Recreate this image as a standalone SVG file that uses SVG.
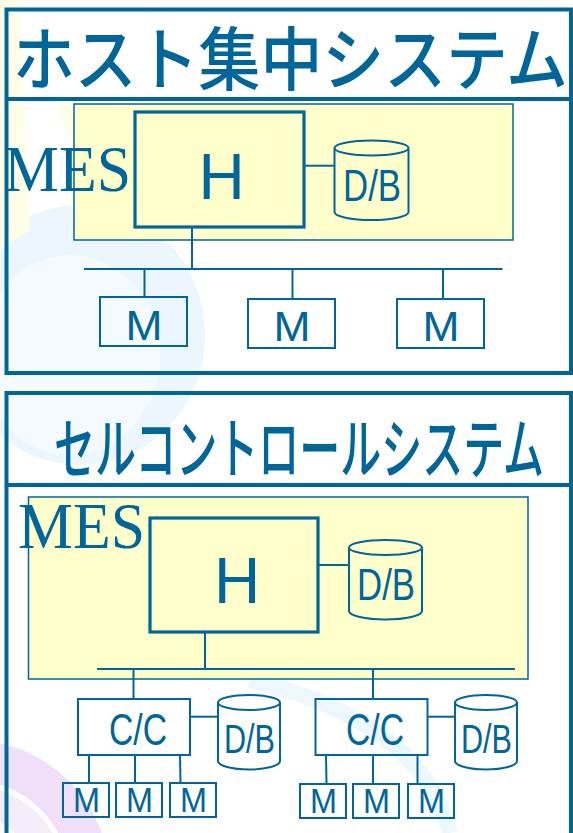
<svg xmlns="http://www.w3.org/2000/svg" width="573" height="833" viewBox="0 0 573 833">
<style>
.frm{fill:none;stroke:#006699;stroke-width:4}
.mes{fill:#FFFFCC;stroke:#006699;stroke-width:1.5}
.host{fill:#FFFFCC;stroke:#006699;stroke-width:3.2}
.box{fill:none;stroke:#006699;stroke-width:2}
.ln{fill:none;stroke:#006699;stroke-width:2}
.cyl{fill:none;stroke:#006699;stroke-width:2}
.t{fill:#006699;font-family:"Liberation Sans",Arial,sans-serif}
.jp{fill:#006699;font-family:"Noto Sans CJK JP",sans-serif}
.ser{fill:#006699;font-family:"Liberation Serif","Times New Roman",serif}
</style>
<rect width="573" height="833" fill="#FFFFFF"/>
<g id="background" opacity="0.9">
<ellipse cx="80" cy="335" rx="125" ry="130" fill="#EAF6FE"/>
<ellipse cx="70" cy="355" rx="90" ry="100" fill="#F4FAFF"/>
<polygon points="0,0 18,0 30,230 0,250" fill="#FFFFE6"/>
<polygon points="55,100 110,100 75,150" fill="#FFFFE6"/>
<circle cx="-30" cy="880" r="120" fill="none" stroke="#EEDCF8" stroke-width="40"/>
<circle cx="-30" cy="880" r="80" fill="none" stroke="#F6ECFB" stroke-width="30"/>
<path d="M250,680 Q420,720 450,833" fill="none" stroke="#EAF6FE" stroke-width="16"/>
</g>
<g id="frame-host">
<path class="frm" d="M6.5,373 V9.5 H571 V373 Z"/>
<line class="frm" x1="6.5" y1="99" x2="571" y2="99"/>
<text class="jp" x="13" y="85" font-size="69" font-weight="500" textLength="555" lengthAdjust="spacingAndGlyphs">ホスト集中システム</text>
</g>
<g id="frame-cell">
<path class="frm" d="M6.5,840 V393 H571 V840"/>
<line class="frm" x1="6.5" y1="485" x2="571" y2="485"/>
<text class="jp" x="54" y="473" font-size="66" font-weight="500" textLength="490" lengthAdjust="spacingAndGlyphs">セルコントロールシステム</text>
</g>
<g id="mes1">
<rect class="mes" x="74" y="104" width="439" height="136"/>
<text class="ser" x="4" y="191" font-size="66" textLength="127" lengthAdjust="spacingAndGlyphs">MES</text>
</g>
<g id="host1">
<rect class="host" x="135" y="112" width="169" height="115"/>
<text class="t" x="221.5" y="199" font-size="64" text-anchor="middle">H</text>
</g>
<g id="db1">
<path class="cyl" d="M334.5,148 a37,7.5 0 1,0 74,0 a37,7.5 0 1,0 -74,0 M334.5,148 V212 a37,8 0 0,0 74,0 V148"/>
<text class="t" x="372" y="201" font-size="45" text-anchor="middle" textLength="58" lengthAdjust="spacingAndGlyphs">D/B</text>
</g>
<g id="m1"><rect class="box" x="100" y="297" width="87" height="49"/><text class="t" x="144" y="340" font-size="43" text-anchor="middle" textLength="37" lengthAdjust="spacingAndGlyphs">M</text></g>
<g id="m2"><rect class="box" x="248" y="299" width="87" height="49"/><text class="t" x="292" y="341" font-size="43" text-anchor="middle" textLength="37" lengthAdjust="spacingAndGlyphs">M</text></g>
<g id="m3"><rect class="box" x="397" y="299" width="87" height="49"/><text class="t" x="441" y="341" font-size="43" text-anchor="middle" textLength="37" lengthAdjust="spacingAndGlyphs">M</text></g>
<g id="mes2">
<rect class="mes" x="28.5" y="497" width="499.5" height="182"/>
<text class="ser" x="18" y="548" font-size="66" textLength="127" lengthAdjust="spacingAndGlyphs">MES</text>
</g>
<g id="host2">
<rect class="host" x="150" y="518" width="168" height="114"/>
<text class="t" x="237" y="603" font-size="64" text-anchor="middle">H</text>
</g>
<g id="db2">
<path class="cyl" d="M349,547.5 a36.5,7.5 0 1,0 73,0 a36.5,7.5 0 1,0 -73,0 M349,547.5 V611 a36.5,8.5 0 0,0 73,0 V547.5"/>
<text class="t" x="386" y="600" font-size="45" text-anchor="middle" textLength="58" lengthAdjust="spacingAndGlyphs">D/B</text>
</g>
<g id="cc1">
<rect class="box" x="78" y="699" width="112" height="56"/>
<text class="t" x="138" y="745" font-size="44" text-anchor="middle" textLength="58" lengthAdjust="spacingAndGlyphs">C/C</text>
</g>
<g id="db3">
<path class="cyl" d="M218,702.5 a31,7.5 0 1,0 62,0 a31,7.5 0 1,0 -62,0 M218,702.5 V761 a31,8.5 0 0,0 62,0 V702.5"/>
<text class="t" x="249.5" y="753" font-size="41" text-anchor="middle" textLength="51" lengthAdjust="spacingAndGlyphs">D/B</text>
</g>
<g id="cc2">
<rect class="box" x="315.5" y="699" width="112" height="56"/>
<text class="t" x="375" y="745" font-size="44" text-anchor="middle" textLength="58" lengthAdjust="spacingAndGlyphs">C/C</text>
</g>
<g id="db4">
<path class="cyl" d="M455,702.5 a31,7.5 0 1,0 62,0 a31,7.5 0 1,0 -62,0 M455,702.5 V761 a31,8.5 0 0,0 62,0 V702.5"/>
<text class="t" x="486.5" y="753" font-size="41" text-anchor="middle" textLength="51" lengthAdjust="spacingAndGlyphs">D/B</text>
</g>
<g id="m4"><rect class="box" x="63" y="783" width="46" height="34"/><text class="t" x="86.5" y="812" font-size="35" text-anchor="middle" textLength="27" lengthAdjust="spacingAndGlyphs">M</text></g>
<g id="m5"><rect class="box" x="116" y="783" width="46" height="34"/><text class="t" x="139.5" y="812" font-size="35" text-anchor="middle" textLength="27" lengthAdjust="spacingAndGlyphs">M</text></g>
<g id="m6"><rect class="box" x="170" y="783" width="46" height="34"/><text class="t" x="193.5" y="812" font-size="35" text-anchor="middle" textLength="27" lengthAdjust="spacingAndGlyphs">M</text></g>
<g id="m7"><rect class="box" x="300" y="784" width="46" height="34"/><text class="t" x="323.5" y="813" font-size="35" text-anchor="middle" textLength="27" lengthAdjust="spacingAndGlyphs">M</text></g>
<g id="m8"><rect class="box" x="353" y="784" width="46" height="34"/><text class="t" x="376.5" y="813" font-size="35" text-anchor="middle" textLength="27" lengthAdjust="spacingAndGlyphs">M</text></g>
<g id="m9"><rect class="box" x="408" y="784" width="46" height="34"/><text class="t" x="431.5" y="813" font-size="35" text-anchor="middle" textLength="27" lengthAdjust="spacingAndGlyphs">M</text></g>
<g id="connectors">
<line class="ln" x1="304" y1="165.7" x2="334.5" y2="165.7"/>
<line class="ln" x1="192" y1="227" x2="192" y2="269"/>
<line class="ln" x1="84" y1="269" x2="502.5" y2="269"/>
<line class="ln" x1="144.5" y1="269" x2="144.5" y2="297"/>
<line class="ln" x1="292.5" y1="269" x2="292.5" y2="299"/>
<line class="ln" x1="443" y1="269" x2="443" y2="299"/>
<line class="ln" x1="318" y1="565" x2="349" y2="565"/>
<line class="ln" x1="205" y1="632" x2="205" y2="669"/>
<line class="ln" x1="97" y1="669" x2="515" y2="669"/>
<line class="ln" x1="133.5" y1="669" x2="133.5" y2="699"/>
<line class="ln" x1="373" y1="669" x2="373" y2="699"/>
<line class="ln" x1="190" y1="716.7" x2="218" y2="716.7"/>
<line class="ln" x1="427.5" y1="716.7" x2="455" y2="716.7"/>
<line class="ln" x1="89" y1="755" x2="89" y2="783"/>
<line class="ln" x1="135" y1="755" x2="135" y2="783"/>
<line class="ln" x1="180" y1="755" x2="180.5" y2="783"/>
<line class="ln" x1="326" y1="755" x2="326.5" y2="784"/>
<line class="ln" x1="373" y1="755" x2="373" y2="784"/>
<line class="ln" x1="417.5" y1="755" x2="417.5" y2="784"/>
</g>
</svg>
